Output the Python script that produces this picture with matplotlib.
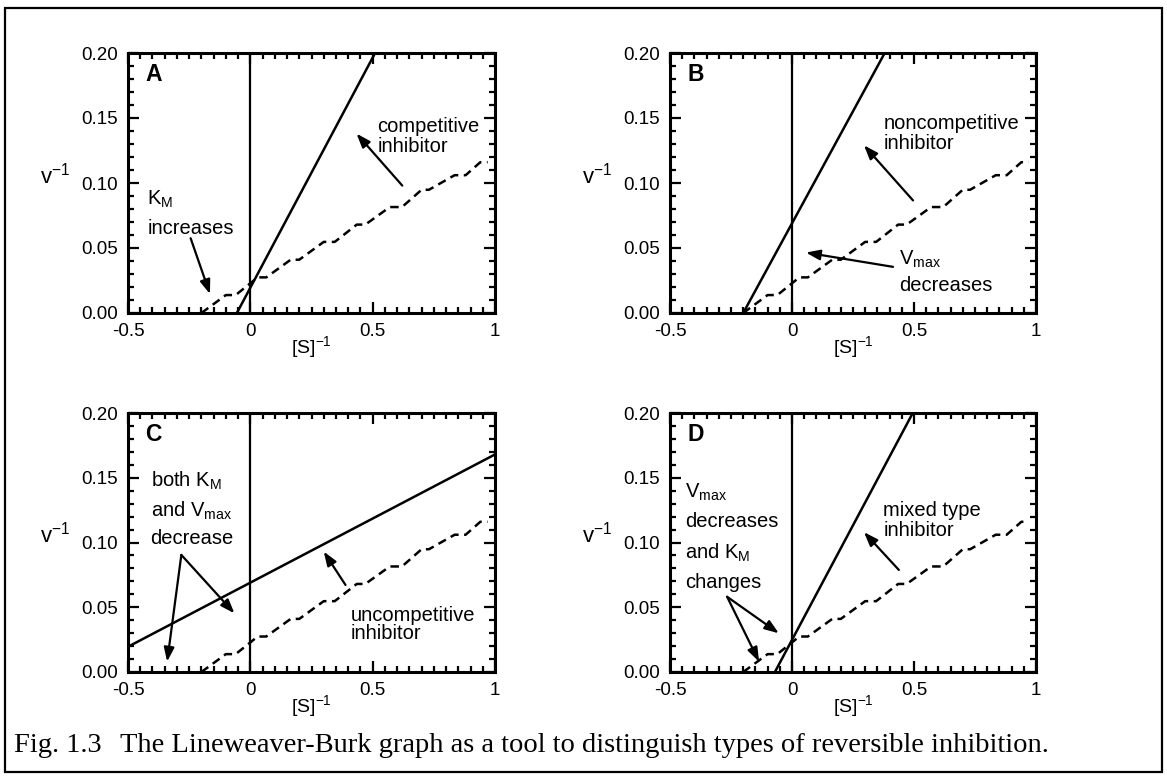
import matplotlib
matplotlib.use('Agg')
import matplotlib.pyplot as plt
from matplotlib.patches import Rectangle
from matplotlib.ticker import MultipleLocator, FixedFormatter, FixedLocator

plt.rcParams['font.family'] = ['Liberation Sans', 'DejaVu Sans']
plt.rcParams['mathtext.default'] = 'regular'
plt.rcParams['axes.unicode_minus'] = False

# uninhibited reaction (dashed, same in all panels)
base_x = [-0.2, -0.1, -0.06, 0.03, 0.065, 0.165, 0.2, 0.3, 0.345, 0.435, 0.47,
          0.57, 0.62, 0.70, 0.73, 0.835, 0.88, 0.94, 0.97]
base_y = [0.0, 0.0138, 0.0138, 0.0274, 0.0274, 0.041, 0.041, 0.0547, 0.0547, 0.068, 0.068,
          0.0815, 0.0815, 0.0948, 0.0948, 0.106, 0.106, 0.116, 0.116]

# inhibited reactions (solid lines, end points)
comp_x, comp_y = [-0.055, 0.51], [0.0, 0.2]
noncomp_x, noncomp_y = [-0.2, 0.38], [0.0, 0.2]
uncomp_x, uncomp_y = [-0.5, 1.0], [0.0195, 0.168]
mixed_x, mixed_y = [-0.07, 0.495], [0.0, 0.2]

x_ticks = [-0.5, 0, 0.5, 1]
x_ticklabels = ['-0.5', '0', '0.5', '1']
y_ticks = [0.0, 0.05, 0.10, 0.15, 0.20]
y_ticklabels = ['0.00', '0.05', '0.10', '0.15', '0.20']

W, H = 1167, 778
fig = plt.figure(figsize=(W / 100, H / 100), dpi=100)


def axes_px(left, top, width, height):
    return fig.add_axes([left / W, 1 - (top + height) / H, width / W, height / H])


def setup(ax, letter):
    ax.set_xlim(-0.5, 1.0)
    ax.set_ylim(0, 0.2)
    ax.xaxis.set_major_locator(FixedLocator(x_ticks))
    ax.xaxis.set_major_formatter(FixedFormatter(x_ticklabels))
    ax.xaxis.set_minor_locator(MultipleLocator(0.05))
    ax.yaxis.set_major_locator(FixedLocator(y_ticks))
    ax.yaxis.set_major_formatter(FixedFormatter(y_ticklabels))
    ax.yaxis.set_minor_locator(MultipleLocator(0.01))
    ax.tick_params(which='both', direction='in', top=True, right=True,
                   labelsize=13.5, width=1.6)
    ax.tick_params(which='major', length=8, pad=7)
    ax.tick_params(which='minor', length=4.5)
    for s in ax.spines.values():
        s.set_linewidth(2.2)
    ax.set_xlabel('[S]$^{-1}$', fontsize=14, labelpad=-4)
    ax.set_ylabel('v$^{-1}$', fontsize=16, rotation=0, ha='center', va='center')
    ax.yaxis.set_label_coords(-0.2, 0.53)
    ax.axvline(0, color='black', lw=1.6)
    ax.plot(base_x, base_y, color='black', lw=1.8, linestyle=(0, (3.4, 2.2)))
    ax.text(-0.43, 0.192, letter, fontsize=16.5, fontweight='bold', ha='left', va='top')


def label(ax, x, y, s):
    ax.text(x, y, s, fontsize=14.5, ha='left', va='center_baseline')


def arrow(ax, tail, head):
    ax.annotate('', xy=head, xytext=tail,
                arrowprops=dict(arrowstyle='-|>,head_length=0.6,head_width=0.22',
                                color='black', lw=1.6,
                                mutation_scale=14, shrinkA=0, shrinkB=0))


# A
ax = axes_px(128, 53, 367, 260)
setup(ax, 'A')
ax.plot(comp_x, comp_y, color='black', lw=1.8)
label(ax, -0.421, 0.0895, 'K$_{M}$')
label(ax, -0.421, 0.0667, 'increases')
arrow(ax, (-0.244, 0.0575), (-0.165, 0.0146))
label(ax, 0.52, 0.145, 'competitive')
label(ax, 0.52, 0.1295, 'inhibitor')
arrow(ax, (0.621, 0.098), (0.434, 0.138))

# B
ax = axes_px(670, 53, 366, 260)
setup(ax, 'B')
ax.plot(noncomp_x, noncomp_y, color='black', lw=1.8)
label(ax, 0.374, 0.147, 'noncompetitive')
label(ax, 0.374, 0.132, 'inhibitor')
arrow(ax, (0.496, 0.0866), (0.295, 0.129))
label(ax, 0.437, 0.043, 'V$_{max}$')
label(ax, 0.437, 0.0228, 'decreases')
arrow(ax, (0.414, 0.0355), (0.057, 0.0465))

# C
ax = axes_px(128, 413, 367, 259)
setup(ax, 'C')
ax.plot(uncomp_x, uncomp_y, color='black', lw=1.8)
label(ax, -0.408, 0.1496, 'both K$_{M}$')
label(ax, -0.408, 0.1264, 'and V$_{max}$')
label(ax, -0.408, 0.1045, 'decrease')
arrow(ax, (-0.282, 0.0904), (-0.065, 0.0453))
arrow(ax, (-0.282, 0.0904), (-0.34, 0.008))
label(ax, 0.409, 0.0453, 'uncompetitive')
label(ax, 0.409, 0.0311, 'inhibitor')
arrow(ax, (0.389, 0.0672), (0.30, 0.093))

# D
ax = axes_px(670, 413, 366, 259)
setup(ax, 'D')
ax.plot(mixed_x, mixed_y, color='black', lw=1.8)
label(ax, -0.44, 0.1405, 'V$_{max}$')
label(ax, -0.44, 0.1174, 'decreases')
label(ax, -0.44, 0.094, 'and K$_{M}$')
label(ax, -0.44, 0.071, 'changes')
arrow(ax, (-0.266, 0.0581), (-0.054, 0.0299))
arrow(ax, (-0.266, 0.0581), (-0.135, 0.008))
label(ax, 0.374, 0.1264, 'mixed type')
label(ax, 0.374, 0.111, 'inhibitor')
arrow(ax, (0.438, 0.0788), (0.295, 0.108))

# frame and caption
fig.patches.append(Rectangle((5 / W, 1 - 772 / H), 1157 / W, 764 / H, transform=fig.transFigure,
                             fill=False, edgecolor='black', lw=1.6))
fig.text(14 / W, 1 - 745 / H, 'Fig. 1.3', family='Liberation Serif', fontsize=20.5,
         ha='left', va='center')
fig.text(120 / W, 1 - 745 / H,
         'The Lineweaver-Burk graph as a tool to distinguish types of reversible inhibition.',
         family='Liberation Serif', fontsize=20.5, ha='left', va='center')

fig.savefig('out.png', dpi=100, facecolor='white')
